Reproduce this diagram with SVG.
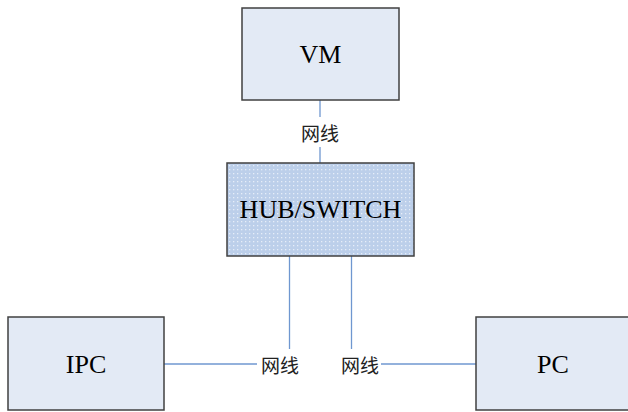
<svg xmlns="http://www.w3.org/2000/svg" width="628" height="412" viewBox="0 0 628 412">
<style>
.box{fill:#e3eaf5;stroke:#404040;stroke-width:1.5}
.lbl{font-family:"Liberation Serif","Times New Roman",serif;font-size:26px;fill:#000;text-anchor:middle;dominant-baseline:central}
.cn{font-family:"Noto Sans CJK SC",sans-serif;font-size:19px;fill:#222;text-anchor:middle;dominant-baseline:central}
.ln{stroke:#6f97d0;stroke-width:1.3;fill:none}
</style>
<defs>
<pattern id="dots" width="4" height="4" patternUnits="userSpaceOnUse">
<rect width="4" height="4" fill="#bccfea"/>
<rect x="1" y="1" width="1.3" height="1.3" fill="#e6edf8"/>
</pattern>
</defs>
<g id="connectors">
<line class="ln" x1="320" y1="100" x2="320" y2="117"/>
<line class="ln" x1="320" y1="147" x2="320" y2="163"/>
<line class="ln" x1="289.5" y1="256" x2="289.5" y2="349"/>
<line class="ln" x1="351.5" y1="256" x2="351.5" y2="349"/>
<line class="ln" x1="164" y1="364" x2="257" y2="364"/>
<line class="ln" x1="381" y1="364" x2="476" y2="364"/>
<text class="cn" x="320" y="132">网线</text>
<text class="cn" x="280" y="364">网线</text>
<text class="cn" x="360" y="364">网线</text>
</g>
<g id="vm">
<rect class="box" x="242" y="8" width="157" height="92"/>
<text class="lbl" x="320.5" y="54">VM</text>
</g>
<g id="hub">
<rect x="227" y="163" width="187" height="93" fill="url(#dots)" stroke="#404040" stroke-width="1.5"/>
<text class="lbl" x="320.5" y="209">HUB/SWITCH</text>
</g>
<g id="ipc">
<rect class="box" x="8" y="317" width="156" height="93"/>
<text class="lbl" x="86" y="364">IPC</text>
</g>
<g id="pc">
<rect class="box" x="476" y="317" width="155" height="93"/>
<text class="lbl" x="553" y="364">PC</text>
</g>
</svg>
